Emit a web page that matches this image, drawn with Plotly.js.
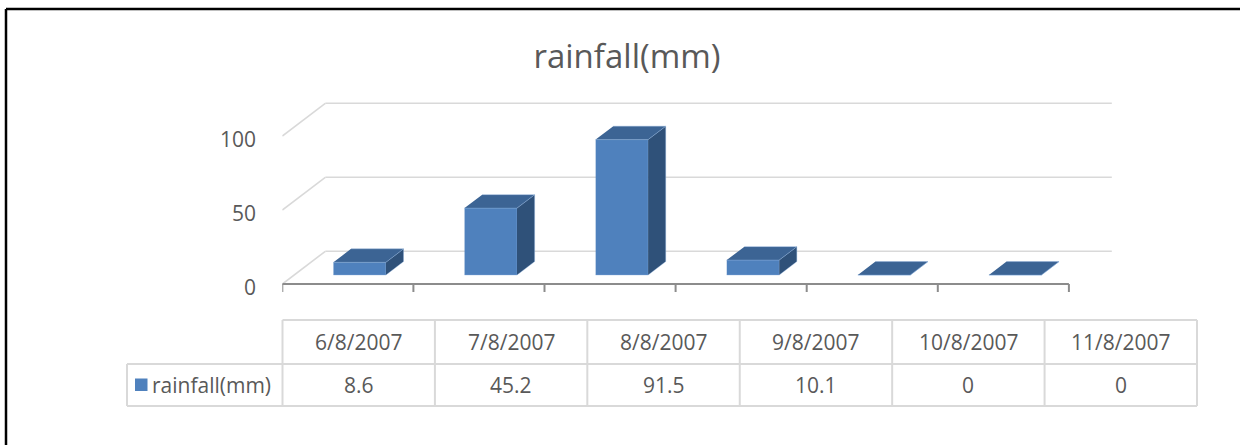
<!DOCTYPE html>
<html>
<head>
<meta charset="utf-8">
<script src="https://cdn.plot.ly/plotly-3.0.1.min.js"></script>
<style>html,body{margin:0;padding:0;background:#fff;}#chart{width:1240px;height:445px;}</style>
</head>
<body>
<div id="chart"></div>
<script>
// ---- data ----
const categories = ["6/8/2007", "7/8/2007", "8/8/2007", "9/8/2007", "10/8/2007", "11/8/2007"];
const rainfall = [8.6, 45.2, 91.5, 10.1, 0, 0];
const seriesName = "rainfall(mm)";
const yTicks = [0, 50, 100];

// ---- geometry (style) ----
const W = 1240, H = 445;
const X = px => px / W, Y = py => 1 - py / H;
const pxPerCat = 131.1, pxPerUnit = 1.48;
const depthX = 43 / pxPerCat;      // depth offset in x units
const depthY = 32.7 / pxPerUnit;   // depth offset in y units
const fF = 0.275, fB = 0.685, hw = 0.2;
const n = categories.length;
const xMin = -0.5, xMax = n - 0.5 + depthX;
const plotLeft = 282.3, plotRight = plotLeft + (xMax - xMin) * pxPerCat;
const zeroPx = 284, topPx = 95, botPx = 295;
const yMin = -(botPx - zeroPx) / pxPerUnit, yMax = (zeroPx - topPx) / pxPerUnit;

// gridlines (back wall + left wall diagonals)
const gx = [], gy = [];
yTicks.forEach(v => {
  gx.push(xMin + depthX, xMax, null); gy.push(v + depthY, v + depthY, null);
  gx.push(xMin, xMin + depthX, null); gy.push(v, v + depthY, null);
});
// front axis line + ticks
const ax = [xMin, n - 0.5, null], ay = [0, 0, null];
for (let k = 0; k <= n; k++) { ax.push(k - 0.5, k - 0.5, null); ay.push(0, -8 / pxPerUnit, null); }

// bars
const fx = [], fy = [], sx = [], sy = [], tx = [], ty = [];
rainfall.forEach((v, i) => {
  const xl = i - hw, xr = i + hw;
  fx.push(xl + fF*depthX, xr + fF*depthX, xr + fF*depthX, xl + fF*depthX, null);
  fy.push(fF*depthY, fF*depthY, v + fF*depthY, v + fF*depthY, null);
  sx.push(xr + fF*depthX, xr + fB*depthX, xr + fB*depthX, xr + fF*depthX, null);
  sy.push(fF*depthY, fB*depthY, v + fB*depthY, v + fF*depthY, null);
  tx.push(xl + fF*depthX, xr + fF*depthX, xr + fB*depthX, xl + fB*depthX, null);
  ty.push(v + fF*depthY, v + fF*depthY, v + fB*depthY, v + fB*depthY, null);
});

const edge = {color: 'rgba(140,175,220,0.55)', width: 0.7};
const traces = [
  {x: gx, y: gy, mode: 'lines', line: {color: '#D9D9D9', width: 1.6}, hoverinfo: 'skip'},
  {x: ax, y: ay, mode: 'lines', line: {color: '#8C8C8C', width: 2}, hoverinfo: 'skip'},
  {x: fx, y: fy, mode: 'lines', fill: 'toself', fillcolor: '#4F81BD', line: edge, name: seriesName},
  {x: sx, y: sy, mode: 'lines', fill: 'toself', fillcolor: '#2F5179', line: edge, name: seriesName},
  {x: tx, y: ty, mode: 'lines', fill: 'toself', fillcolor: '#3C6494', line: edge, name: seriesName}
];

// ---- data table ----
const tTop = 320, tMid = 364, tBot = 406, tLeft = 127, c0 = 282.5, c1 = 1197;
const colW = (c1 - c0) / n;
const lc = '#D9D9D9';
const shapes = [
  // chart border (top / left)
  {type: 'line', xref: 'paper', yref: 'paper', x0: X(6), x1: X(1240), y0: Y(9), y1: Y(9), line: {color: '#000', width: 2.5}},
  {type: 'line', xref: 'paper', yref: 'paper', x0: X(6), x1: X(6), y0: Y(9), y1: Y(445), line: {color: '#000', width: 2.5}},
  {type: 'line', xref: 'paper', yref: 'paper', x0: X(c0), x1: X(c1), y0: Y(tTop), y1: Y(tTop), line: {color: lc, width: 2}},
  {type: 'line', xref: 'paper', yref: 'paper', x0: X(tLeft), x1: X(c1), y0: Y(tMid), y1: Y(tMid), line: {color: lc, width: 2}},
  {type: 'line', xref: 'paper', yref: 'paper', x0: X(tLeft), x1: X(c1), y0: Y(tBot), y1: Y(tBot), line: {color: lc, width: 2}},
  {type: 'line', xref: 'paper', yref: 'paper', x0: X(tLeft), x1: X(tLeft), y0: Y(tMid), y1: Y(tBot), line: {color: lc, width: 2}},
  {type: 'rect', xref: 'paper', yref: 'paper', x0: X(135), x1: X(147.5), y0: Y(378.5), y1: Y(391), fillcolor: '#4F81BD', line: {width: 0}}
];
for (let k = 0; k <= n; k++) {
  shapes.push({type: 'line', xref: 'paper', yref: 'paper', x0: X(c0 + k*colW), x1: X(c0 + k*colW), y0: Y(tTop), y1: Y(tBot), line: {color: lc, width: 2}});
}
const tf = {family: 'Open Sans, sans-serif', size: 21, color: '#595959'};
const annotations = [];
categories.forEach((c, k) => {
  annotations.push({xref: 'paper', yref: 'paper', x: X(c0 + (k + 0.5)*colW), y: Y((tTop + tMid)/2), text: c, showarrow: false, font: tf, xanchor: 'center', yanchor: 'middle'});
  annotations.push({xref: 'paper', yref: 'paper', x: X(c0 + (k + 0.5)*colW), y: Y((tMid + tBot)/2), text: String(rainfall[k]), showarrow: false, font: tf, xanchor: 'center', yanchor: 'middle'});
});
annotations.push({xref: 'paper', yref: 'paper', x: X(150), y: Y((tMid + tBot)/2), text: seriesName, showarrow: false, font: tf, xanchor: 'left', yanchor: 'middle'});
// y-axis value labels, placed on the y scale
yTicks.forEach(v => {
  annotations.push({xref: 'paper', yref: 'y', x: X(258), y: v, yshift: -2.5, text: String(v), showarrow: false, font: tf, xanchor: 'right', yanchor: 'middle'});
});

const layout = {
  width: W, height: H,
  margin: {l: 0, r: 0, t: 0, b: 0, pad: 0},
  paper_bgcolor: '#fff', plot_bgcolor: 'rgba(0,0,0,0)',
  showlegend: false,
  title: {text: seriesName, x: X(627), y: Y(56), xref: 'paper', yref: 'paper', xanchor: 'center', yanchor: 'middle',
          font: {family: 'Open Sans, sans-serif', size: 33, color: '#595959'}},
  xaxis: {domain: [X(plotLeft), X(plotRight)], range: [xMin, xMax], visible: false, fixedrange: true},
  yaxis: {domain: [Y(botPx), Y(topPx)], range: [yMin, yMax], visible: false, fixedrange: true},
  shapes: shapes,
  annotations: annotations
};
Plotly.newPlot('chart', traces, layout, {staticPlot: true, displayModeBar: false});
</script>
</body>
</html>
